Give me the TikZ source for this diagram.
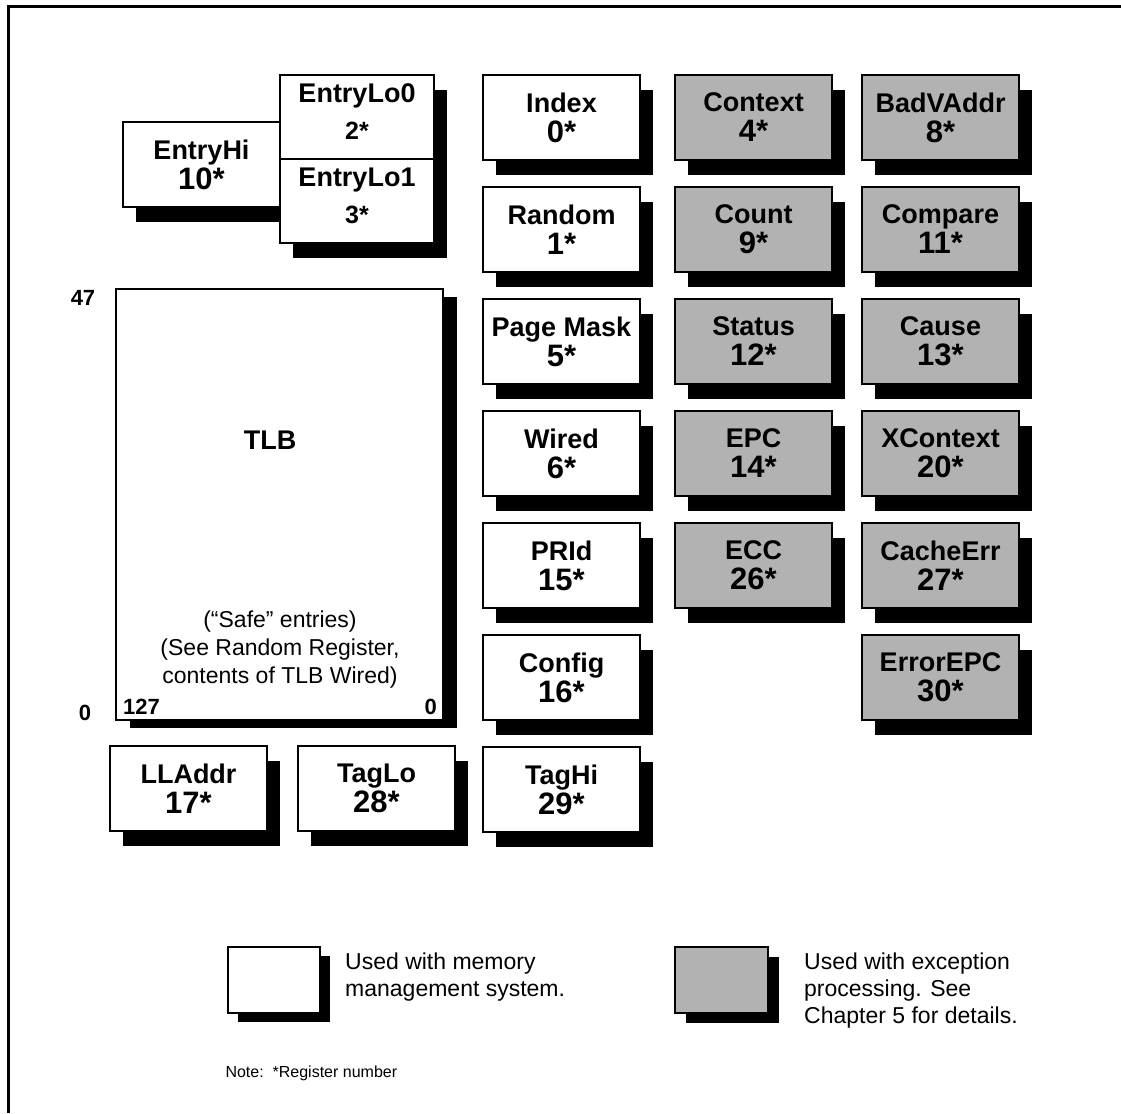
\documentclass[tikz,border=0pt]{standalone}
\usepackage{fontspec}
\setmainfont{Liberation Sans}
\usepackage{xcolor}
\usetikzlibrary{positioning,shadows}

\definecolor{excgray}{gray}{0.7}
\newcommand\regname{\fontsize{27}{30}\selectfont\bfseries}
\newcommand\regnum{\fontsize{31}{30}\selectfont\bfseries}
\newcommand\lonum{\fontsize{25}{30}\selectfont\bfseries}

\begin{document}
\begin{tikzpicture}[
    x=1pt, y=-1pt,
    node distance=27pt and 35pt,
    shadowed/.style 2 args={drop shadow={shadow xshift=#1, shadow yshift=-#2,
                fill=black, opacity=1}},
    regbox/.style={rectangle, draw, line width=1.5pt, fill=white, outer sep=0pt,
                inner sep=0pt, minimum width=157pt, minimum height=85pt,
                align=center, font=\regname},
    reg/.style={regbox, shadowed={13pt}{15pt}},
    exc/.style={reg, fill=excgray},
    entrylo/.style={reg, minimum width=154pt, minimum height=84pt, text depth=11pt},
    lbl/.style={font=\fontsize{23}{27}\selectfont, inner sep=0pt, align=left},
    idx/.style={font=\fontsize{22}{22}\selectfont\bfseries, inner sep=0pt},
  ]
    \useasboundingbox (0,0) rectangle (1121,1113);
    \draw[line width=3pt] (1121,6.5) -- (8.5,6.5) -- (8.5,1113);

    % TLB entry registers
    \node[reg, anchor=north west] (entryhi) at (123,122) {EntryHi\\\regnum 10*};
    \node[entrylo, anchor=north west] (entrylo0) at (280,75) {EntryLo0\\[7pt]\lonum 2*};
    \node[entrylo, below=0pt of entrylo0] (entrylo1) {EntryLo1\\[7pt]\lonum 3*};

    % memory management column
    \node[reg, anchor=north west] (index) at (483,75) {Index\\\regnum 0*};
    \node[reg, below=of index]    (random)   {Random\\\regnum 1*};
    \node[reg, below=of random]   (pagemask) {Page Mask\\\regnum 5*};
    \node[reg, below=of pagemask] (wired)    {Wired\\\regnum 6*};
    \node[reg, below=of wired]    (prid)     {PRId\\\regnum 15*};
    \node[reg, below=of prid]     (config)   {Config\\\regnum 16*};
    \node[reg, below=of config]   (taghi)    {TagHi\\\regnum 29*};

    % exception processing columns
    \node[exc, right=of index]    (context) {Context\\\regnum 4*};
    \node[exc, below=of context]  (count)   {Count\\\regnum 9*};
    \node[exc, below=of count]    (status)  {Status\\\regnum 12*};
    \node[exc, below=of status]   (epc)     {EPC\\\regnum 14*};
    \node[exc, below=of epc]      (ecc)     {ECC\\\regnum 26*};

    \node[exc, right=30pt of context] (badvaddr) {BadVAddr\\\regnum 8*};
    \node[exc, below=of badvaddr] (compare)  {Compare\\\regnum 11*};
    \node[exc, below=of compare]  (cause)    {Cause\\\regnum 13*};
    \node[exc, below=of cause]    (xcontext) {XContext\\\regnum 20*};
    \node[exc, below=of xcontext] (cacheerr) {CacheErr\\\regnum 27*};
    \node[exc, below=of cacheerr] (errorepc) {ErrorEPC\\\regnum 30*};

    % the TLB itself
    \node[regbox, shadowed={14pt}{8pt}, anchor=north west,
          minimum width=327pt, minimum height=431pt] (tlb) at (116,289) {};
    \node[font=\fontsize{27}{28}\selectfont\bfseries] (tlbname) at (270,440) {TLB};
    \node[lbl, align=center, font=\fontsize{23}{28}\selectfont] (safe) at (280,650)
        {(“Safe” entries)\\(See Random Register,\\contents of TLB Wired)};
    \node[idx, anchor=west] (col127) at (123,707) {127};
    \node[idx, anchor=east] (col0)   at (437,707) {0};
    \node[idx] (row47) at (83,298) {47};
    \node[idx] (row0)  at (85,713) {0};

    % bottom row
    \node[reg, anchor=north west] (lladdr) at (110,746) {LLAddr\\\regnum 17*};
    \node[reg, right=31pt of lladdr] (taglo) {TagLo\\\regnum 28*};

    % key
    \node[regbox, shadowed={10pt}{9pt}, anchor=north west,
          minimum width=92pt, minimum height=66pt] (keymem) at (228,947) {};
    \node[lbl, anchor=north west] (keymemtext) at (345,953)
        {Used with memory\\management system.};
    \node[regbox, fill=excgray, shadowed={11pt}{10pt}, anchor=north west,
          minimum width=93pt, minimum height=66pt] (keyexc) at (675,947) {};
    \node[lbl, anchor=north west] (keyexctext) at (804,953)
        {Used with exception\\processing. See\\Chapter 5 for details.};

    \node[font=\fontsize{16}{18}\selectfont, anchor=west] (note) at (222,1073)
        {Note:\ \ *Register number};
\end{tikzpicture}
\end{document}
